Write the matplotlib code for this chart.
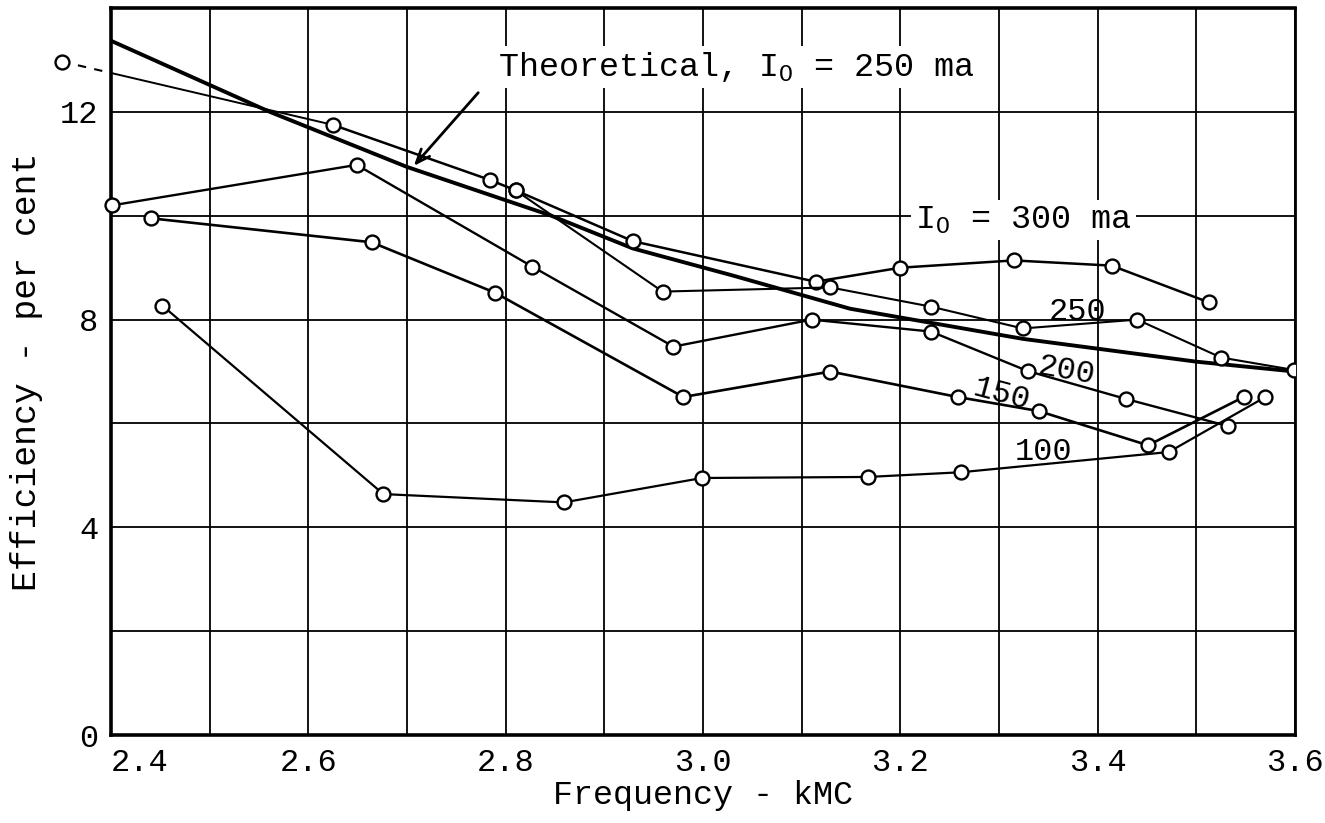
import matplotlib
matplotlib.use("Agg")
import matplotlib.pyplot as plt
from matplotlib.ticker import MultipleLocator

plt.rcParams["font.family"] = ["Liberation Mono", "DejaVu Sans Mono"]
plt.rcParams["mathtext.fontset"] = "custom"
plt.rcParams["mathtext.rm"] = "Liberation Mono"
plt.rcParams["mathtext.it"] = "Liberation Mono"

# theoretical curve, I0 = 250 ma
theo_freq = [2.40, 2.561, 2.700, 2.845, 2.929, 3.030, 3.149, 3.324, 3.40, 3.50, 3.60]
theo_eff = [13.37, 12.00, 10.94, 10.01, 9.37, 8.85, 8.21, 7.63, 7.44, 7.19, 7.00]

# measured curves (frequency kMC, efficiency %)
freq_300 = [2.625, 2.784, 2.810, 2.929, 3.114, 3.200, 3.315, 3.414, 3.513]
eff_300 = [11.75, 10.69, 10.49, 9.51, 8.73, 9.00, 9.14, 9.04, 8.33]
# first 300 ma point lies off the scale, joined by a dashed line
freq_300_off = [2.350, 2.40]
eff_300_off = [12.97, 12.75]

freq_250 = [2.810, 2.959, 3.129, 3.231, 3.324, 3.440, 3.525, 3.599]
eff_250 = [10.49, 8.54, 8.62, 8.25, 7.83, 8.00, 7.27, 7.03]

freq_200 = [2.401, 2.649, 2.827, 2.970, 3.110, 3.231, 3.329, 3.429, 3.532]
eff_200 = [10.20, 10.98, 9.02, 7.48, 8.00, 7.77, 7.01, 6.47, 5.95]

freq_150 = [2.441, 2.664, 2.789, 2.980, 3.129, 3.258, 3.340, 3.451, 3.548]
eff_150 = [9.95, 9.49, 8.52, 6.51, 7.00, 6.51, 6.24, 5.58, 6.51]

freq_100 = [2.452, 2.676, 2.859, 2.999, 3.167, 3.261, 3.472, 3.570]
eff_100 = [8.27, 4.64, 4.48, 4.95, 4.97, 5.06, 5.45, 6.51]

x_labels = ["2.4", "2.6", "2.8", "3.0", "3.2", "3.4", "3.6"]
y_labels = ["0", "4", "8", "12"]

fig = plt.figure(figsize=(13.25, 8.23), dpi=100)
ax = fig.add_axes([0.0838, 0.1069, 0.8936, 0.8833])
ax.set_xlim(2.4, 3.6)
ax.set_ylim(0, 14)

# grid every 0.1 kMC and every 2 per cent
ax.xaxis.set_minor_locator(MultipleLocator(0.1))
ax.yaxis.set_minor_locator(MultipleLocator(2))
ax.grid(which="both", color="black", lw=1.3, zorder=0)
ax.set_xticks([float(s) for s in x_labels])
ax.set_xticklabels(x_labels)
ax.set_yticks([float(s) for s in y_labels])
ax.set_yticklabels(y_labels)
ax.tick_params(which="both", length=0, labelsize=23)
ax.tick_params(axis="x", pad=9)
ax.tick_params(axis="y", pad=9)
xt = ax.get_xticklabels()
xt[0].set_horizontalalignment("left")
for side in ["left", "top", "bottom"]:
    ax.spines[side].set_linewidth(2.6)
ax.spines["right"].set_linewidth(2.0)

ax.plot(theo_freq, theo_eff, color="black", lw=2.8, zorder=3)

mk = dict(marker="o", markersize=10, markerfacecolor="white",
          markeredgecolor="black", markeredgewidth=1.7, color="black", zorder=4)
ax.plot(freq_300_off, eff_300_off, ls=(0, (4, 4)), color="black", lw=1.5,
        clip_on=False, zorder=4)
ax.plot(freq_300_off[:1], eff_300_off[:1], ls="none", clip_on=False, **mk)
ax.plot([freq_300_off[1], freq_300[0]], [eff_300_off[1], eff_300[0]],
        color="black", lw=1.4, zorder=4)
ax.plot(freq_300, eff_300, lw=1.8, **mk)
ax.plot(freq_250, eff_250, lw=1.5, **mk)
ax.plot(freq_200, eff_200, lw=1.7, clip_on=False, **mk)
ax.plot(freq_150, eff_150, lw=1.9, **mk)
ax.plot(freq_100, eff_100, lw=1.6, **mk)

box = dict(facecolor="white", edgecolor="none", pad=3)
ax.text(2.792, 12.70, "Theoretical, I$_{\\mathrm{O}}$ = 250 ma", fontsize=24,
        va="baseline", ha="left", bbox=box, zorder=5)
ax.annotate("", xy=(2.705, 10.92), xytext=(2.774, 12.41),
            arrowprops=dict(arrowstyle="->,head_length=1.0,head_width=0.4",
                            color="black", lw=2.0), zorder=6)
ax.text(3.215, 9.76, "I$_{\\mathrm{O}}$ = 300 ma", fontsize=24,
        va="baseline", ha="left", bbox=box, zorder=5)
ax.text(3.380, 8.15, "250", fontsize=23, ha="center", va="center", zorder=5)
ax.text(3.368, 7.01, "200", fontsize=23, ha="center", va="center",
        rotation=-10, zorder=5)
ax.text(3.303, 6.55, "150", fontsize=23, ha="center", va="center",
        rotation=-15, zorder=5)
ax.text(3.345, 5.45, "100", fontsize=23, ha="center", va="center", zorder=5)

ax.set_xlabel("Frequency - kMC", fontsize=24, labelpad=2)
ax.set_ylabel("Efficiency - per cent", fontsize=25, labelpad=12)

fig.savefig("out.png", dpi=100)
